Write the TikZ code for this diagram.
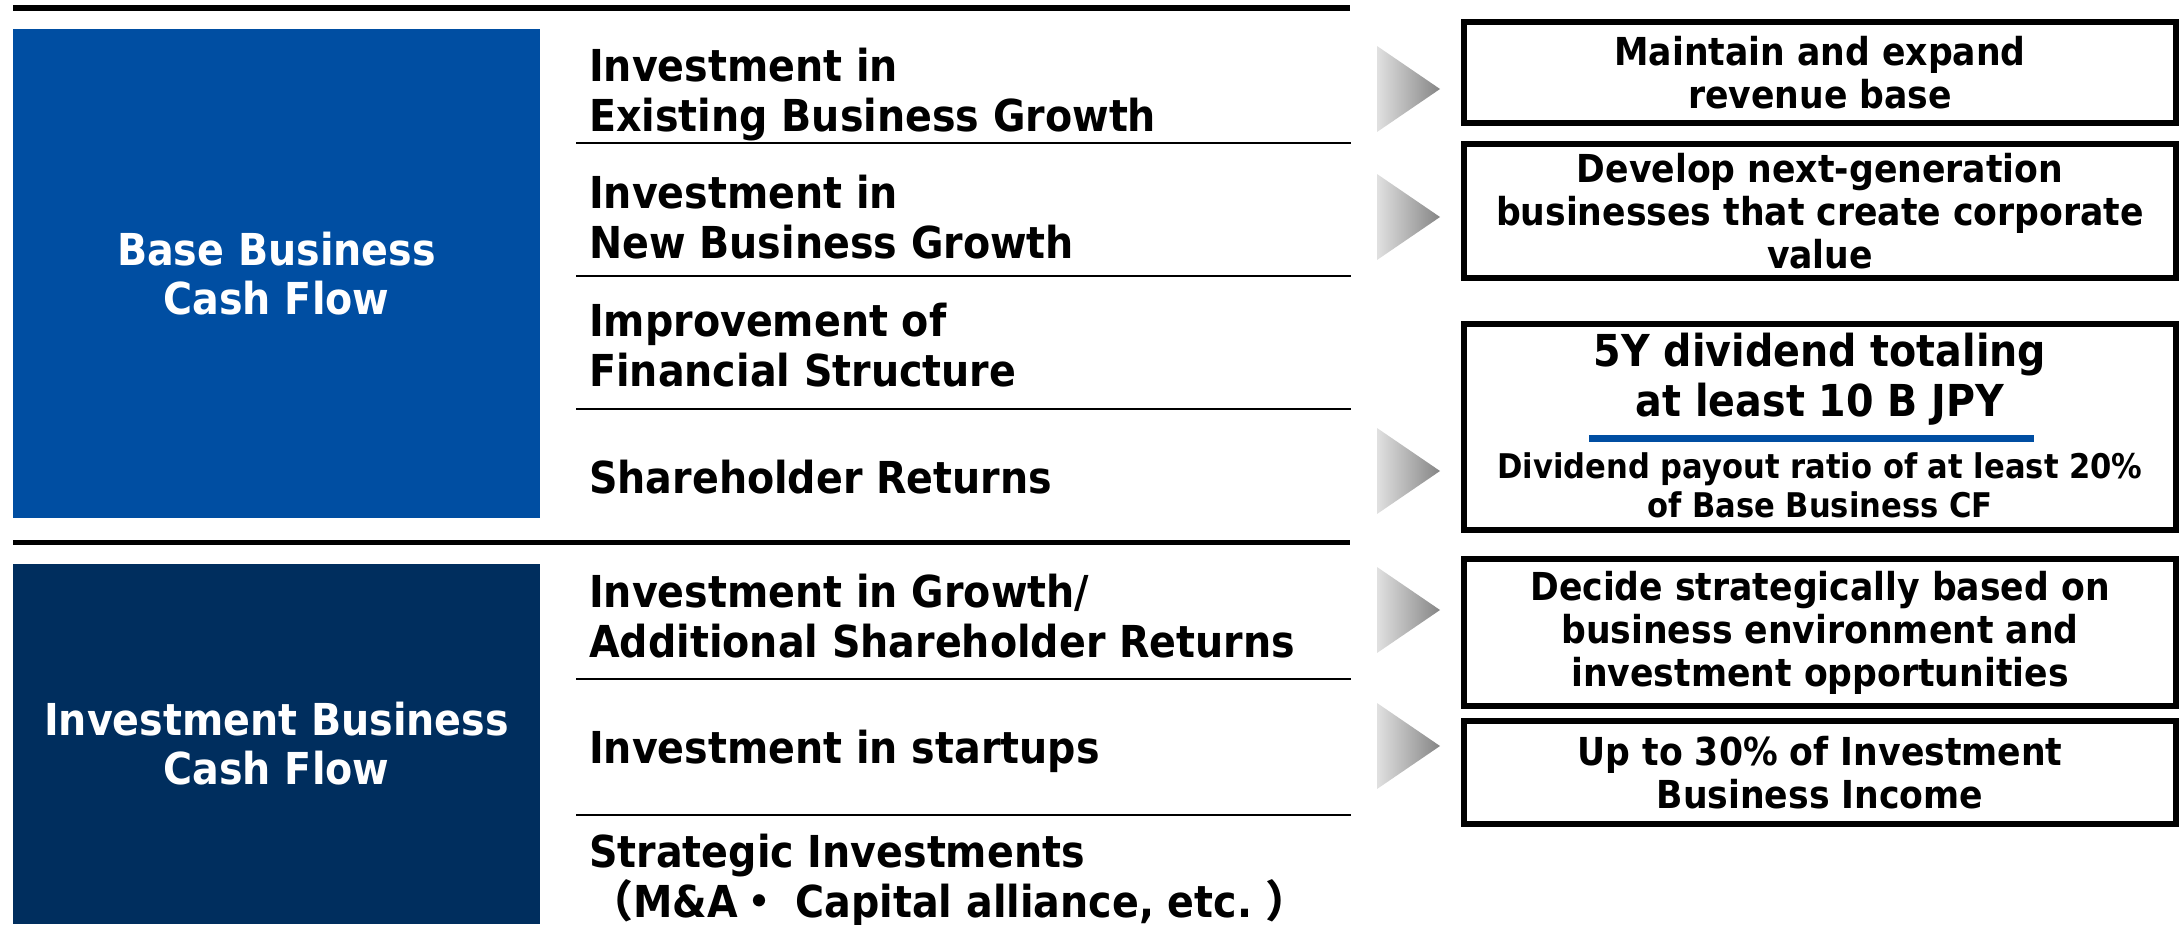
\documentclass[tikz,border=0pt]{standalone}
\usepackage{fontspec}
\setmainfont{DejaVu Sans}[FakeStretch=0.9]
\newfontfamily\cjk{Noto Sans CJK JP}
\usetikzlibrary{positioning}
\definecolor{baseblue}{HTML}{004EA2}
\definecolor{invnavy}{HTML}{002E5E}
\newcommand\rowfont{\fontsize{44}{50}\selectfont\bfseries}
\newcommand\goalfont{\fontsize{38.5}{43}\selectfont\bfseries}
\newcommand\notefont{\fontsize{34}{39}\selectfont\bfseries}

\begin{document}
\begin{tikzpicture}[x=1pt,y=-1pt]

\tikzset{cfbox/.style={fill=#1,text=white,inner sep=0pt,align=center,
    minimum width=527pt,font=\fontsize{44}{49}\selectfont\bfseries}}
\tikzset{rowlabel/.style={anchor=base west,inner sep=0pt,align=left,font=\rowfont}}
\tikzset{goalbox/.style={draw,line width=6pt,inner sep=0pt,align=center,
    minimum width=712pt,font=\goalfont}}
\tikzset{rule/.style={line width=#1}}
\tikzset{pointer/.style={left color=black!12,right color=black!48}}

\useasboundingbox (0,0) rectangle (2182,924);

% cash flow sources
\node[cfbox=baseblue,minimum height=489pt] (base)   at (276.5,273.5) {Base Business\\Cash Flow};
\node[cfbox=invnavy,minimum height=360pt]  (invest) at (276.5,744)   {Investment Business\\Cash Flow};

\draw[rule=6pt] (13,8) -- (1350,8);
\draw[rule=5pt] (13,542) -- (1350,542);
\foreach \y in {143,276,409,679,815}
  \draw[rule=2.5pt] (576,\y) -- (1351,\y);

% uses (base = last line)
\node[rowlabel] (existing)  at (589,131.7) {Investment in\\Existing Business Growth};
\node[rowlabel] (newbiz)    at (589,258)   {Investment in\\New Business Growth};
\node[rowlabel] (finance)   at (589,386)   {Improvement of\\Financial Structure};
\node[rowlabel] (returns)   at (589,493)   {Shareholder Returns};
\node[rowlabel] (growth)    at (589,657)   {Investment in Growth/\\Additional Shareholder Returns};
\node[rowlabel] (startups)  at (589,763)   {Investment in startups};
\node[rowlabel] (strategic) at (589,917)   {Strategic Investments\\{\cjk （}M\&A{\cjk ・}\ Capital alliance, etc.\ {\cjk ）}};

\foreach \y in {89,217,471,610,746}
  \shade[pointer] (1377,\y-43) -- (1440,\y) -- (1377,\y+43) -- cycle;

% policies
\node[goalbox,minimum height=101pt] (maintain) at (1820,72.5)  {Maintain and expand\\revenue base};
\node[goalbox,minimum height=134pt] (develop)  at (1820,211)   {Develop next-generation\\businesses that create corporate\\value};
\node[goalbox,minimum height=206pt] (payout)   at (1820,427)   {};
\node[anchor=base,align=center,inner sep=0pt,font=\rowfont] (total) at (1820,416)
  {5Y dividend totaling\\at least 10 B JPY};
\draw[baseblue,rule=7pt] (1589,438) -- (2034,438);
\node[anchor=base,align=center,inner sep=0pt,font=\notefont] (ratio) at (1820,517)
  {Dividend payout ratio of at least 20\%\\of Base Business CF};
\node[goalbox,minimum height=147pt] (decide)   at (1820,632.5) {Decide strategically based on\\business environment and\\investment opportunities};
\node[goalbox,minimum height=103pt] (upto)     at (1820,772.5) {Up to 30\% of Investment\\Business Income};

\end{tikzpicture}
\end{document}
